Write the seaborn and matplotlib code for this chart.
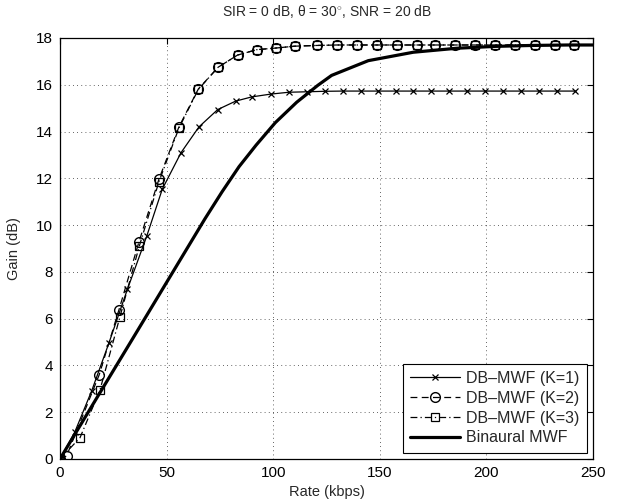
import numpy as np
import pandas as pd
import matplotlib
matplotlib.use('Agg')
import matplotlib.pyplot as plt
import seaborn as sns

# datos
rate_k1 = [0, 6.9, 14.9, 23.0, 31.6, 40.7, 48.0, 56.8, 65.2, 74.0, 82.4, 89.9, 98.8,
           107.4, 116.0, 124.1, 132.6, 141.0, 149.3, 157.4, 165.7, 174.0, 182.6,
           191.0, 199.5, 207.9, 216.2, 224.5, 232.9, 241.7]
gain_k1 = [0, 1.14, 2.92, 4.97, 7.25, 9.53, 11.54, 13.1, 14.2, 14.94, 15.3, 15.48,
           15.6, 15.68, 15.7, 15.72, 15.73, 15.73, 15.73, 15.73, 15.73, 15.73, 15.73,
           15.73, 15.73, 15.73, 15.73, 15.73, 15.73, 15.73]

rate_k2 = [0, 3.1, 18.4, 27.7, 37.0, 46.4, 55.8, 64.9, 74.2, 83.3, 92.3, 101.3,
           110.2, 120.4, 129.8, 139.2, 148.5, 157.9, 167.3, 175.9, 185.2, 194.7,
           204.0, 213.4, 222.8, 232.2, 241.1]
gain_k2 = [0, 0.13, 3.6, 6.39, 9.27, 11.96, 14.2, 15.82, 16.75, 17.27, 17.5, 17.57,
           17.65, 17.68, 17.7, 17.7, 17.7, 17.7, 17.7, 17.7, 17.7, 17.7, 17.7, 17.7,
           17.7, 17.7, 17.7]

rate_k3 = [0, 9.4, 18.8, 28.1, 37.2, 46.4, 55.8, 64.9, 74.2, 83.3, 92.3, 101.3,
           110.2, 120.4, 129.8, 139.2, 148.5, 157.9, 167.3, 175.9, 185.2, 194.7,
           204.0, 213.4, 222.8, 232.2, 241.1]
gain_k3 = [0, 0.91, 2.96, 6.07, 9.1, 11.85, 14.15, 15.8, 16.75, 17.27, 17.5, 17.57,
           17.65, 17.68, 17.7, 17.7, 17.7, 17.7, 17.7, 17.7, 17.7, 17.7, 17.7, 17.7,
           17.7, 17.7, 17.7]

rate_bin = [0, 17, 34, 51, 68, 76, 84, 92, 101, 111, 121, 127.4, 144.6, 165.7, 186,
            204, 221, 238, 250]
gain_bin = [0, 2.57, 5.13, 7.7, 10.27, 11.42, 12.5, 13.42, 14.38, 15.25, 15.98, 16.4,
            17.03, 17.39, 17.56, 17.64, 17.68, 17.7, 17.7]

xticks = [0, 50, 100, 150, 200, 250]
yticks = [0, 2, 4, 6, 8, 10, 12, 14, 16, 18]

sns.set_style('white')
plt.rcParams['font.family'] = ['Liberation Sans', 'DejaVu Sans']
plt.rcParams['mathtext.fontset'] = 'custom'
plt.rcParams['mathtext.rm'] = 'Liberation Sans'
plt.rcParams['mathtext.it'] = 'Liberation Sans'

fig = plt.figure(figsize=(6.17, 5.03), dpi=100)
ax = fig.add_axes([0.0972, 0.0875, 0.8639, 0.837])

sns.lineplot(x=rate_k1, y=gain_k1, ax=ax, color='k', lw=0.9, marker='x', ms=5,
             mec='k', mew=0.9, label='DB–MWF (K=1)', sort=False)
sns.lineplot(x=rate_k2, y=gain_k2, ax=ax, color='k', lw=0.9, linestyle=(0, (5.5, 3.5)),
             marker='o', ms=7, mfc='none', mec='k', mew=1.0,
             label='DB–MWF (K=2)', sort=False)
sns.lineplot(x=rate_k3, y=gain_k3, ax=ax, color='k', lw=0.9,
             linestyle=(0, (5.5, 2.5, 1, 2.5)),
             marker='s', ms=6, mfc='none', mec='k', mew=0.9,
             label='DB–MWF (K=3)', sort=False)
sns.lineplot(x=rate_bin, y=gain_bin, ax=ax, color='k', lw=2.3,
             label='Binaural MWF', sort=False)

ax.set_xlim(0, 250)
ax.set_ylim(0, 18)
ax.set_xticks(xticks)
ax.set_yticks(yticks)
ax.tick_params(direction='in', top=True, right=True, length=4, width=0.8,
               labelsize=11, colors='k', pad=5)
ax.grid(True, color='k', linestyle=(0, (1, 4)), linewidth=0.6, alpha=0.8)
for sp in ax.spines.values():
    sp.set_visible(True); sp.set_color('k'); sp.set_linewidth(0.9)

ax.set_xlabel('Rate (kbps)', fontsize=10.5, labelpad=4)
ax.set_ylabel('Gain (dB)', fontsize=10.5, labelpad=11)
ax.set_title(r'SIR = 0 dB, $\theta$ = 30$^{\circ}$, SNR = 20 dB', fontsize=10, pad=16)

leg = ax.legend(loc='lower right', fontsize=11.5, handlelength=3.1, labelspacing=0.3,
                borderpad=0.45, handletextpad=0.4, borderaxespad=0.4,
                fancybox=False, framealpha=1, edgecolor='k')
leg.get_frame().set_linewidth(0.8)

fig.savefig('out.png', dpi=100, facecolor='white')
